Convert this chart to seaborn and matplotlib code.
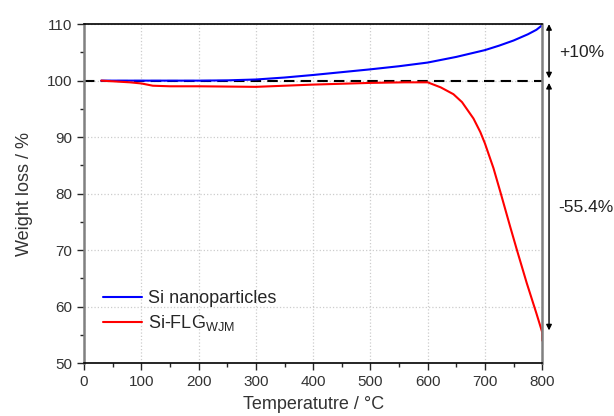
import numpy as np
import pandas as pd
import seaborn as sns
import matplotlib.pyplot as plt
from matplotlib.ticker import MultipleLocator

# TGA curves
temp_si = [30, 100, 200, 250, 300, 350, 400, 450, 500, 550, 600, 650, 700, 725, 750, 775, 790, 800]
wt_si = [100.0, 100.0, 100.0, 100.05, 100.2, 100.55, 101.0, 101.5, 102.0, 102.55, 103.2, 104.2, 105.4, 106.2, 107.1, 108.2, 109.0, 109.8]

temp_flg = [30, 80, 100, 120, 150, 200, 250, 300, 350, 400, 450, 500, 560, 600, 623, 645, 660, 680, 692, 700, 715, 727, 744, 756, 773, 790, 800, 800]
wt_flg = [100.0, 99.7, 99.5, 99.1, 99.0, 99.0, 98.95, 98.9, 99.1, 99.3, 99.45, 99.6, 99.7, 99.7, 98.8, 97.6, 96.2, 93.3, 90.9, 88.9, 84.5, 80.3, 74.2, 70.0, 64.2, 58.8, 55.5, 54.0]

labels = ['Si nanoparticles', 'Si-FLG$_{\\mathregular{WJM}}$']
colors = ['#0000ff', '#ff0000']

df = pd.concat([
    pd.DataFrame({'T': temp_si, 'w': wt_si, 'sample': labels[0]}),
    pd.DataFrame({'T': temp_flg, 'w': wt_flg, 'sample': labels[1]}),
])

sns.set_style('white')
plt.rcParams['font.family'] = ['Liberation Sans', 'DejaVu Sans']

fig = plt.figure(figsize=(6.14, 4.16), dpi=100)
ax = fig.add_axes([0.137, 0.127, 0.746, 0.815])

sns.lineplot(data=df, x='T', y='w', hue='sample', palette=colors, sort=False,
             estimator=None, linewidth=1.5, ax=ax)
ax.plot([0, 800], [100, 100], color='black', linestyle=(0, (5, 3)), linewidth=1.5, zorder=1)

ax.set_xlim(0, 800)
ax.set_ylim(50, 110)
ax.xaxis.set_major_locator(MultipleLocator(100))
ax.xaxis.set_minor_locator(MultipleLocator(50))
ax.yaxis.set_major_locator(MultipleLocator(10))
ax.yaxis.set_minor_locator(MultipleLocator(5))
ax.grid(True, which='major', color='#cccccc', linestyle=':', linewidth=0.9)
ax.tick_params(which='major', direction='out', length=5, width=1, labelsize=11,
               labelcolor='#333333', bottom=True, left=True)
ax.tick_params(which='minor', direction='out', length=3, width=1, bottom=True, left=True)
for side in ['left', 'right']:
    ax.spines[side].set_color('#808080')
    ax.spines[side].set_linewidth(1.8)
for side in ['top', 'bottom']:
    ax.spines[side].set_color('black')
    ax.spines[side].set_linewidth(1.2)

ax.set_xlabel('Temperatutre / °C', fontsize=13, color='#333333', labelpad=5)
ax.set_ylabel('Weight loss / %', fontsize=13, color='#333333', labelpad=10)

leg = ax.legend(loc='lower left', bbox_to_anchor=(0.005, 0.04), frameon=False,
                fontsize=13, handlelength=2.2, handletextpad=0.3, labelspacing=0.35)

# annotation arrows outside the axes
arr = dict(arrowstyle='<|-|>', color='black', lw=1, mutation_scale=8, shrinkA=0, shrinkB=0)
ax.annotate('', xy=(812, 110), xytext=(812, 100.4), arrowprops=arr, annotation_clip=False)
ax.annotate('', xy=(812, 99.6), xytext=(812, 55.8), arrowprops=arr, annotation_clip=False)
ax.text(830, 105, '+10%', fontsize=12.5, va='center', ha='left', color='#222222', clip_on=False)
ax.text(828, 77.5, '-55.4%', fontsize=12.5, va='center', ha='left', color='#222222', clip_on=False)

plt.savefig('out.png', dpi=100)
